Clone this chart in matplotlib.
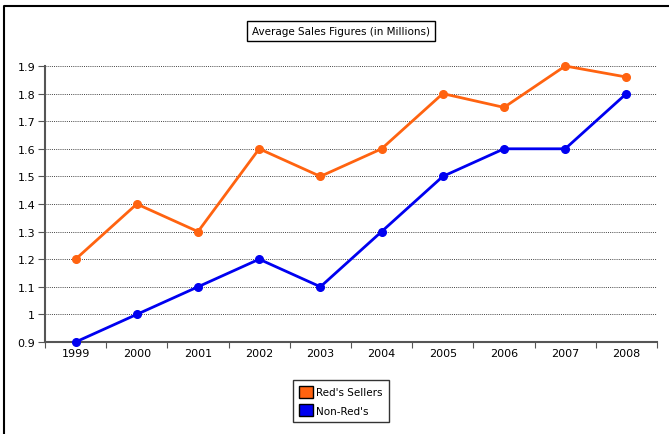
import numpy as np
import matplotlib
matplotlib.use('Agg')
import matplotlib.pyplot as plt
from matplotlib.lines import Line2D
from matplotlib.patches import Patch

years=['1999','2000','2001','2002','2003','2004','2005','2006','2007','2008']
reds=[1.2,1.4,1.3,1.6,1.5,1.6,1.8,1.75,1.9,1.86]
nonreds=[0.9,1.0,1.1,1.2,1.1,1.3,1.5,1.6,1.6,1.8]
yticks=[0.9,1.0,1.1,1.2,1.3,1.4,1.5,1.6,1.7,1.8,1.9]
ylabels=['0.9','1','1.1','1.2','1.3','1.4','1.5','1.6','1.7','1.8','1.9']

orange='#ff6310'
blue='#0000f0'

fig=plt.figure(figsize=(6.69,4.35),dpi=100)
ax=fig.add_axes([45/669,1-343/435,612/669,276/435])

x=np.arange(len(years))
ax.plot(x,reds,color=orange,linewidth=2,marker='o',markersize=5.5,clip_on=False,zorder=3)
ax.plot(x,nonreds,color=blue,linewidth=2,marker='o',markersize=5.5,clip_on=False,zorder=3)

ax.set_xlim(-0.5,len(years)-0.5)
ax.set_ylim(0.9,1.9)
ax.set_yticks(yticks)
ax.set_yticklabels(ylabels,fontsize=8)
for y in yticks[1:]:
    ax.axhline(y,color='#444444',linestyle=(0,(1,1.2)),linewidth=0.7,zorder=0)

ax.set_xticks(np.arange(len(years)+1)-0.5)
ax.set_xticklabels([])
ax.set_xticks(x,minor=True)
ax.set_xticklabels(years,minor=True,fontsize=8)
ax.tick_params(axis='x',which='minor',length=0,pad=4)
ax.tick_params(axis='x',which='major',length=4,direction='out',color='#555555')
ax.tick_params(axis='y',length=5,direction='out',color='#555555',pad=2)

for s in ['top','right']:
    ax.spines[s].set_visible(False)
for s in ['left','bottom']:
    ax.spines[s].set_color('#555555')
    ax.spines[s].set_linewidth(1.5)

fig.text(341/669,1-32/435,'Average Sales Figures (in Millions)',fontsize=7.5,ha='center',va='center',
         bbox=dict(boxstyle='square,pad=0.45',facecolor='white',edgecolor='black',linewidth=1))

handles=[Patch(facecolor=orange,edgecolor='black',label="Red's Sellers"),
         Patch(facecolor=blue,edgecolor='black',label="Non-Red's")]
fig.legend(handles=handles,loc='center',bbox_to_anchor=(341/669,1-402/435),fontsize=7.5,
           frameon=True,fancybox=False,edgecolor='black',handlelength=1.3,handleheight=1.4,
           handletextpad=0.3,borderpad=0.6,labelspacing=0.6,borderaxespad=0)

border=Line2D([4/669,4/669,1],[0,1-7/435,1-7/435],transform=fig.transFigure,color='black',linewidth=1.5)
fig.add_artist(border)

plt.savefig('out.png',dpi=100)
